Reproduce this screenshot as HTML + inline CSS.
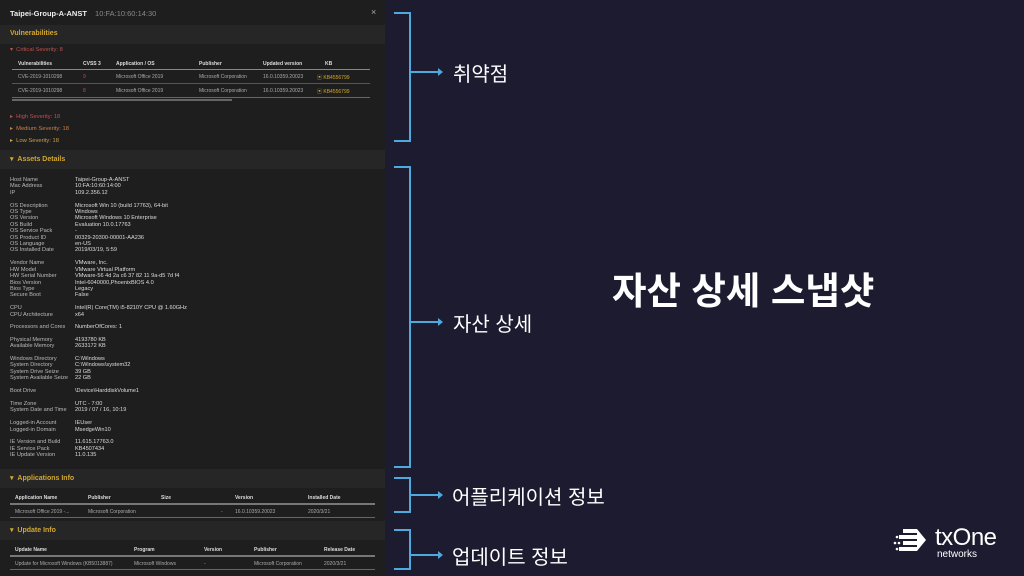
<!DOCTYPE html>
<html><head><meta charset="utf-8"><style>
*{margin:0;padding:0;box-sizing:border-box}
body{width:1024px;height:576px;background:#1d1b30;position:relative;overflow:hidden;font-family:"Liberation Sans","Noto Sans CJK KR",sans-serif}
.p{position:absolute;left:0;top:0;width:385px;height:576px;background:#1e1e1e}
.a{position:absolute;white-space:nowrap}
.band{position:absolute;left:0;width:385px;background:#262626}
.h{color:#d4a72c;font-weight:bold;font-size:7px}
.t{font-size:5px;color:#aaa}
.s{font-size:5.8px}
.th{font-size:5px;color:#ddd;font-weight:bold}
.line{position:absolute;height:1px;background:#777}
.d{position:absolute;font-size:5.6px;line-height:6.4px;color:#bbb;white-space:pre}
.v{color:#ddd}
.br{position:absolute;border:2px solid #4fa9dc;border-left:none;width:17px}
.ar{position:absolute;height:2px;background:#4fa9dc;width:28px}
.ar:after{content:"";position:absolute;right:-4px;top:-3px;border-left:5px solid #4fa9dc;border-top:4px solid transparent;border-bottom:4px solid transparent}
.lb{position:absolute;color:#fff;font-size:20px;white-space:nowrap}
</style></head><body>
<div class="p">
 <div class="a" style="left:10px;top:9px;font-size:7.5px;color:#eee;font-weight:bold">Taipei-Group-A-ANST <span style="color:#888;font-weight:normal;margin-left:6px">10:FA:10:60:14:30</span></div>
 <div class="a" style="left:371px;top:7px;font-size:9px;color:#aaa">×</div>
 <div class="band" style="top:25px;height:19px"></div>
 <div class="a h" style="left:10px;top:30px">Vulnerabilities</div>
 <div class="a t s" style="left:10px;top:47px;color:#c0504d">▾ &nbsp;Critical Severity: 8</div>
 <div class="a th" style="left:18px;top:61px">Vulnerabilities</div>
 <div class="a th" style="left:83px;top:61px">CVSS 3</div>
 <div class="a th" style="left:116px;top:61px">Application / OS</div>
 <div class="a th" style="left:199px;top:61px">Publisher</div>
 <div class="a th" style="left:263px;top:61px">Updated version</div>
 <div class="a th" style="left:325px;top:61px">KB</div>
 <div class="line" style="left:12px;top:69px;width:358px;background:#888"></div>
 <div class="a t" style="left:18px;top:74px">CVE-2019-1010298</div><div class="a t" style="left:83px;top:74px;color:#c0504d">9</div><div class="a t" style="left:116px;top:74px">Microsoft Office 2019</div><div class="a t" style="left:199px;top:74px">Microsoft Corporation</div><div class="a t" style="left:263px;top:74px">16.0.10359.20023</div><div class="a t" style="left:317px;top:74px;color:#d4a72c">▣ KB4556799</div>
 <div class="line" style="left:12px;top:83px;width:358px;background:#555"></div>
 <div class="a t" style="left:18px;top:88px">CVE-2019-1010298</div><div class="a t" style="left:83px;top:88px;color:#c0504d">8</div><div class="a t" style="left:116px;top:88px">Microsoft Office 2019</div><div class="a t" style="left:199px;top:88px">Microsoft Corporation</div><div class="a t" style="left:263px;top:88px">16.0.10359.20023</div><div class="a t" style="left:317px;top:88px;color:#d4a72c">▣ KB4556799</div>
 <div class="line" style="left:12px;top:97px;width:358px;background:#666"></div>
 <div class="line" style="left:12px;top:99px;width:220px;height:2px;background:#666"></div>
 <div class="a t s" style="left:10px;top:114px;color:#c0504d">▸ &nbsp;High Severity: 18</div>
 <div class="a t s" style="left:10px;top:126px;color:#c9804a">▸ &nbsp;Medium Severity: 18</div>
 <div class="a t s" style="left:10px;top:138px;color:#c9a04a">▸ &nbsp;Low Severity: 18</div>
 <div class="band" style="top:150px;height:19px"></div>
 <div class="a h" style="left:10px;top:155px">▾ &nbsp;Assets Details</div>
 <div class="d" style="left:10px;top:177px">Host Name
Mac Address
IP

OS Description
OS Type
OS Version
OS Build
OS Service Pack
OS Product ID
OS Language
OS Installed Date

Vendor Name
HW Model
HW Serial Number
Bios Version
Bios Type
Secure Boot

CPU
CPU Architecture</div>
 <div class="d v" style="left:75px;top:177px">Taipei-Group-A-ANST
10:FA:10:60:14:00
109.2.356.12

Microsoft Win 10 (build 17763), 64-bit
Windows
Microsoft Windows 10 Enterprise
Evaluation 10.0.17763
-
00329-20300-00001-AA236
en-US
2019/03/19, 5:59

VMware, Inc.
VMware Virtual Platform
VMware-56 4d 2a c6 37 82 11 9a-d5 7d f4
Intel-6040000,PhoenixBIOS 4.0
Legacy
False

Intel(R) Core(TM) i5-8210Y CPU @ 1.60GHz
x64</div>
 <div class="d" style="left:10px;top:324px">Processors and Cores

Physical Memory
Available Memory

Windows Directory
System Directory
System Drive Seize
System Available Seize

Boot Drive

Time Zone
System Date and Time

Logged-in Account
Logged-in Domain

IE Version and Build
IE Service Pack
IE Update Version</div>
 <div class="d v" style="left:75px;top:324px">NumberOfCores: 1

4193780 KB
2633172 KB

C:\Windows
C:\Windows\system32
39 GB
22 GB

\Device\HarddiskVolume1

UTC - 7:00
2019 / 07 / 16, 10:19

IEUser
MsedgeWin10

11.615.17763.0
KB4507434
11.0.135</div>
 <div class="band" style="top:469px;height:19px"></div>
 <div class="a h" style="left:10px;top:474px">▾ &nbsp;Applications Info</div>
 <div class="a th" style="left:15px;top:495px">Application Name</div><div class="a th" style="left:88px;top:495px">Publisher</div><div class="a th" style="left:161px;top:495px">Size</div><div class="a th" style="left:235px;top:495px">Version</div><div class="a th" style="left:308px;top:495px">Installed Date</div>
 <div class="line" style="left:10px;top:503px;width:365px;height:2px;background:#777"></div>
 <div class="a t" style="left:15px;top:509px">Microsoft Office 2019 -...</div><div class="a t" style="left:88px;top:509px">Microsoft Corporation</div><div class="a t" style="left:221px;top:509px">-</div><div class="a t" style="left:235px;top:509px">16.0.10359.20023</div><div class="a t" style="left:308px;top:509px">2020/3/21</div>
 <div class="line" style="left:10px;top:517px;width:365px;background:#666"></div>
 <div class="band" style="top:521px;height:19px"></div>
 <div class="a h" style="left:10px;top:526px">▾ &nbsp;Update Info</div>
 <div class="a th" style="left:15px;top:547px">Update Name</div><div class="a th" style="left:134px;top:547px">Program</div><div class="a th" style="left:204px;top:547px">Version</div><div class="a th" style="left:254px;top:547px">Publisher</div><div class="a th" style="left:324px;top:547px">Release Date</div>
 <div class="line" style="left:10px;top:555px;width:365px;height:2px;background:#777"></div>
 <div class="a t" style="left:15px;top:561px">Update for Microsoft Windows (KB5013887)</div><div class="a t" style="left:134px;top:561px">Microsoft Windows</div><div class="a t" style="left:204px;top:561px">-</div><div class="a t" style="left:254px;top:561px">Microsoft Corporation</div><div class="a t" style="left:324px;top:561px">2020/3/21</div>
 <div class="line" style="left:10px;top:569px;width:365px;background:#666"></div>
</div>

<div class="br" style="left:394px;top:12px;height:130px"></div>
<div class="ar" style="left:411px;top:71px"></div>
<div class="lb" style="left:453px;top:58px">취약점</div>

<div class="br" style="left:394px;top:166px;height:302px"></div>
<div class="ar" style="left:411px;top:321px"></div>
<div class="lb" style="left:453px;top:308px">자산 상세</div>

<div class="br" style="left:394px;top:477px;height:36px"></div>
<div class="ar" style="left:411px;top:494px"></div>
<div class="lb" style="left:452px;top:481px">어플리케이션 정보</div>

<div class="br" style="left:394px;top:529px;height:41px"></div>
<div class="ar" style="left:411px;top:554px"></div>
<div class="lb" style="left:452px;top:541px">업데이트 정보</div>

<div class="lb" style="left:612px;top:260px;font-size:37.5px;font-weight:bold">자산 상세 스냅샷</div>

<svg style="position:absolute;left:893px;top:526px" width="40" height="30" viewBox="0 0 40 30">
 <g fill="#fff"><rect x="10" y="3" width="14" height="4"/><rect x="6" y="9" width="20" height="4"/><rect x="10" y="15" width="16" height="4"/><rect x="6" y="21" width="18" height="4"/><path d="M24 3 L33 14 L24 25 Z"/><circle cx="4" cy="11" r="1.3"/><circle cx="2" cy="17" r="1.3"/><circle cx="6" cy="17" r="1.3"/><circle cx="4" cy="23" r="1.3"/></g>
</svg>
<div class="a" style="left:935px;top:524px;color:#fff;font-size:24px;letter-spacing:-0.5px">txOne</div>
<div class="a" style="left:937px;top:549px;color:#fff;font-size:10px">networks</div>
</body></html>
